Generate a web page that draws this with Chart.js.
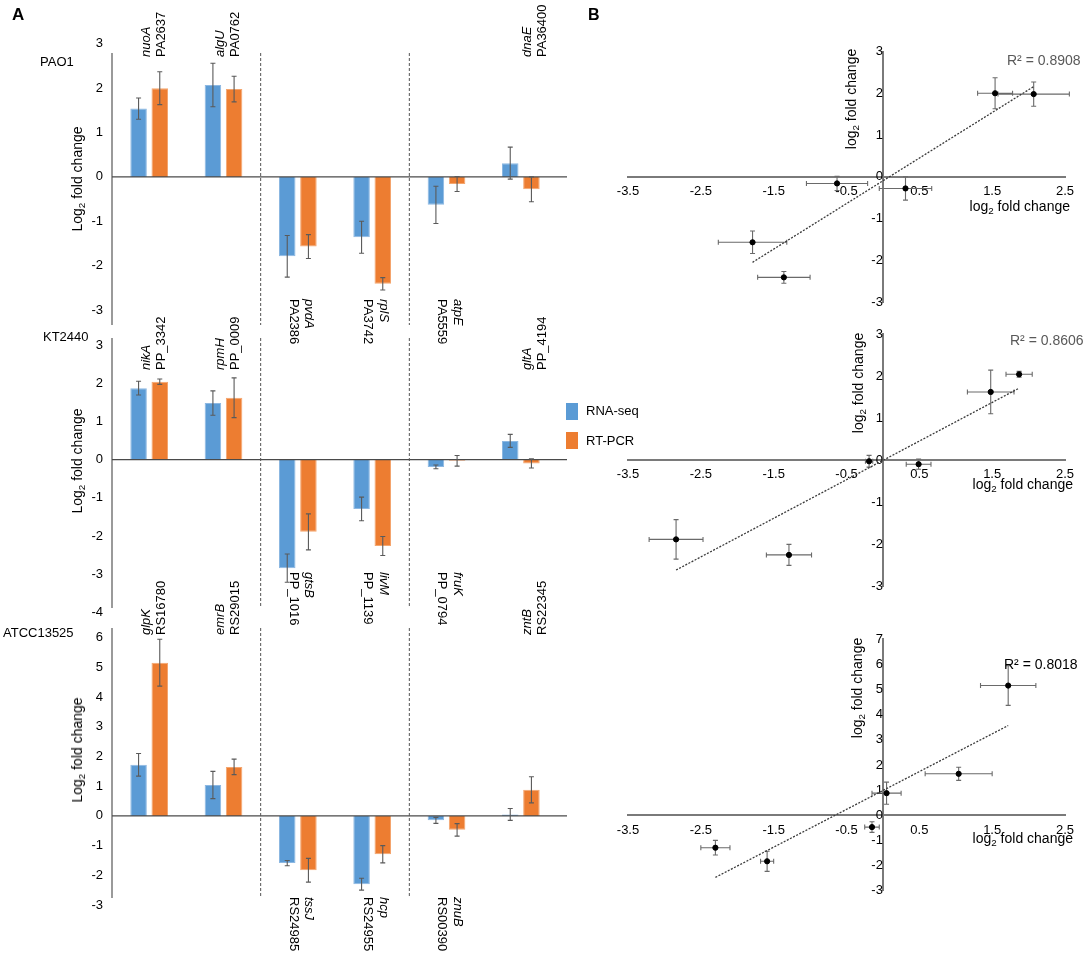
<!DOCTYPE html>
<html>
<head>
<meta charset="utf-8">
<script src="https://cdn.jsdelivr.net/npm/chart.js@4.4.0/dist/chart.umd.min.js"></script>
<style>
  body { margin: 0; background: #fff; }
  #page { position: relative; width: 1084px; height: 956px; overflow: hidden;
          font-family: "Liberation Sans", Arial, sans-serif; color: #000; }
  #page canvas { position: absolute; left: 0; top: 0; }
  .t { position: absolute; white-space: nowrap; font-size: 13px; line-height: 16px; }
  .rot { position: absolute; white-space: nowrap; font-size: 14px; line-height: 16px;
         transform: translate(-50%, -50%) rotate(-90deg); }
  sub { font-size: 70%; vertical-align: -3px; line-height: 0; }
  .sq { position: absolute; width: 12px; height: 17px; }
</style>
</head>
<body>
<div id="page">
  <canvas id="barPAO1" width="1084" height="956"></canvas>
  <canvas id="barKT" width="1084" height="956"></canvas>
  <canvas id="barATCC" width="1084" height="956"></canvas>
  <canvas id="scPAO1" width="1084" height="956"></canvas>
  <canvas id="scKT" width="1084" height="956"></canvas>
  <canvas id="scATCC" width="1084" height="956"></canvas>

  <div class="t" style="left:12px;top:5px;font-size:17px;font-weight:bold;line-height:20px;">A</div>
  <div class="t" style="left:588px;top:5px;font-size:16px;font-weight:bold;line-height:20px;">B</div>

  <div class="t" style="left:40px;top:54px;">PAO1</div>
  <div class="t" style="left:43px;top:329px;">KT2440</div>
  <div class="t" style="left:3px;top:625px;">ATCC13525</div>

  <div class="rot" style="left:77px;top:179px;">Log<sub>2</sub> fold change</div>
  <div class="rot" style="left:77px;top:461px;">Log<sub>2</sub> fold change</div>
  <div class="rot" style="left:77px;top:750px;">Log<sub>2</sub> fold change</div>

  <div class="sq" style="left:566px;top:403px;background:#5B9BD5;"></div>
  <div class="t" style="left:586px;top:403px;">RNA-seq</div>
  <div class="sq" style="left:566px;top:432px;background:#ED7D31;"></div>
  <div class="t" style="left:586px;top:433px;">RT-PCR</div>

  <div class="rot" style="left:851px;top:99px;">log<sub>2</sub> fold change</div>
  <div class="rot" style="left:858px;top:383px;">log<sub>2</sub> fold change</div>
  <div class="rot" style="left:857px;top:688px;">log<sub>2</sub> fold change</div>
  <div class="t" style="right:14px;top:198px;font-size:14px;">log<sub>2</sub> fold change</div>
  <div class="t" style="right:11px;top:476px;font-size:14px;">log<sub>2</sub> fold change</div>
  <div class="t" style="right:11px;top:830px;font-size:14px;">log<sub>2</sub> fold change</div>

  <div class="t" style="left:1007px;top:52px;font-size:14px;color:#595959;">R² = 0.8908</div>
  <div class="t" style="left:1010px;top:332px;font-size:14px;color:#595959;">R² = 0.8606</div>
  <div class="t" style="left:1004px;top:656px;font-size:14px;">R² = 0.8018</div>
</div>

<script>
// ---- data ----
const pao1Genes = ["nuoA", "algU", "pvdA", "rplS", "atpE", "dnaE"];
const pao1Locus = ["PA2637", "PA0762", "PA2386", "PA3742", "PA5559", "PA36400"];
const pao1RnaSeq = [1.54, 2.07, -1.79, -1.36, -0.63, 0.31];
const pao1RnaSeqErr = [0.24, 0.49, 0.47, 0.36, 0.42, 0.36];
const pao1RtPcr = [2.00, 1.98, -1.57, -2.41, -0.16, -0.28];
const pao1RtPcrErr = [0.37, 0.29, 0.27, 0.14, 0.17, 0.28];

const ktGenes = ["nikA", "rpmH", "gtsB", "livM", "fruK", "gltA"];
const ktLocus = ["PP_3342", "PP_0009", "PP_1016", "PP_1139", "PP_0794", "PP_4194"];
const ktRnaSeq = [1.87, 1.48, -2.84, -1.29, -0.19, 0.49];
const ktRnaSeqErr = [0.18, 0.32, 0.37, 0.31, 0.05, 0.17];
const ktRtPcr = [2.04, 1.62, -1.89, -2.26, -0.03, -0.10];
const ktRtPcrErr = [0.07, 0.52, 0.47, 0.25, 0.14, 0.12];

const atccGenes = ["glpK", "emrB", "tssJ", "hcp", "znuB", "zntB"];
const atccLocus = ["RS16780", "RS29015", "RS24985", "RS24955", "RS00390", "RS22345"];
const atccRnaSeq = [1.72, 1.04, -1.59, -2.30, -0.15, 0.05];
const atccRnaSeqErr = [0.38, 0.46, 0.09, 0.20, 0.10, 0.20];
const atccRtPcr = [5.16, 1.65, -1.83, -1.29, -0.47, 0.88];
const atccRtPcrErr = [0.79, 0.26, 0.40, 0.29, 0.21, 0.44];

// label above the bars (true) or below (false)
const labelAbove = [true, true, false, false, false, true];

// tick labels
const pao1BarTicks = [-3, -2, -1, 0, 1, 2, 3];
const ktBarTicks = [-4, -3, -2, -1, 0, 1, 2, 3];
const atccBarTicks = [-3, -2, -1, 0, 1, 2, 3, 4, 5, 6];
const scatterXTicks = [-3.5, -2.5, -1.5, -0.5, 0.5, 1.5, 2.5];
const pao1ScTicks = [-3, -2, -1, 0, 1, 2, 3];
const ktScTicks = [-3, -2, -1, 0, 1, 2, 3];
const atccScTicks = [-3, -2, -1, 0, 1, 2, 3, 4, 5, 6, 7];

// linear trend lines (end points)
const pao1TrendX = [-1.79, 2.07];
const pao1TrendY = [-2.05, 2.16];
const ktTrendX = [-2.84, 1.87];
const ktTrendY = [-2.62, 1.71];
const atccTrendX = [-2.30, 1.72];
const atccTrendY = [-2.47, 3.57];

const W = 1084, H = 956;
const BLUE = "#5B9BD5", ORANGE = "#ED7D31";
const FONT = "'Liberation Sans', Arial, sans-serif";
Chart.defaults.font.family = FONT;
Chart.defaults.font.size = 13;
Chart.defaults.color = "#000";

// error bars, used by both chart types
function drawErrors(chart, ctx, color, cap) {
    chart.data.datasets.forEach((ds, di) => {
        if (!ds.errors && !ds.xErr) return;
        const meta = chart.getDatasetMeta(di);
        const xs = chart.scales.x, ys = chart.scales.y;
        ctx.save();
        ctx.strokeStyle = color;
        ctx.lineWidth = 1.1;
        ctx.beginPath();
        meta.data.forEach((el, j) => {
            const v = chart.data.datasets[di].data[j];
            const yv = typeof v === "object" ? v.y : v;
            const ye = ds.errors ? ds.errors[j] : ds.yErr[j];
            const x = el.x;
            const y1 = ys.getPixelForValue(yv + ye), y2 = ys.getPixelForValue(yv - ye);
            ctx.moveTo(x, y1); ctx.lineTo(x, y2);
            ctx.moveTo(x - cap, y1); ctx.lineTo(x + cap, y1);
            ctx.moveTo(x - cap, y2); ctx.lineTo(x + cap, y2);
            if (ds.xErr) {
                const x1 = xs.getPixelForValue(v.x - ds.xErr[j]);
                const x2 = xs.getPixelForValue(v.x + ds.xErr[j]);
                ctx.moveTo(x1, el.y); ctx.lineTo(x2, el.y);
                ctx.moveTo(x1, el.y - cap); ctx.lineTo(x1, el.y + cap);
                ctx.moveTo(x2, el.y - cap); ctx.lineTo(x2, el.y + cap);
            }
        });
        ctx.stroke();
        ctx.restore();
    });
}

// axis, zero line, dashed separators, gene labels and error bars for the bar panels
const barDecor = {
    id: "barDecor",
    afterDatasetsDraw(chart, args, o) {
        const ctx = chart.ctx;
        const xs = chart.scales.x, ys = chart.scales.y;
        const area = chart.chartArea;
        const y0 = ys.getPixelForValue(0);

        ctx.save();
        // y axis
        ctx.strokeStyle = "#9a9a9a";
        ctx.lineWidth = 2;
        ctx.beginPath();
        ctx.moveTo(area.left, o.lineTop); ctx.lineTo(area.left, o.lineBottom);
        ctx.stroke();
        // zero line
        ctx.strokeStyle = "#4a4a4a";
        ctx.lineWidth = 1.4;
        ctx.beginPath();
        ctx.moveTo(area.left, y0); ctx.lineTo(area.right + 9, y0);
        ctx.stroke();
        // dashed separators between gene groups
        ctx.strokeStyle = "#555";
        ctx.lineWidth = 1;
        ctx.setLineDash([3, 2]);
        [1, 3].forEach(i => {
            const x = (xs.getPixelForValue(i) + xs.getPixelForValue(i + 1)) / 2;
            ctx.beginPath();
            ctx.moveTo(x, o.lineTop); ctx.lineTo(x, o.lineBottom);
            ctx.stroke();
        });
        ctx.setLineDash([]);
        ctx.restore();

        drawErrors(chart, ctx, "#5a5a5a", 2.5);

        // rotated gene / locus labels
        ctx.save();
        ctx.fillStyle = "#000";
        ctx.textBaseline = "middle";
        ctx.textAlign = "left";
        chart.data.labels.forEach((gene, i) => {
            const cx = xs.getPixelForValue(i) + o.shift[i];
            ctx.save();
            if (labelAbove[i]) {
                ctx.translate(cx, o.aboveY);
                ctx.rotate(-Math.PI / 2);
                ctx.font = "italic 13px " + FONT;
                ctx.fillText(gene, 0, -3);
                ctx.font = "13px " + FONT;
                ctx.fillText(o.locus[i], 0, 12);
            } else {
                ctx.translate(cx, o.belowY);
                ctx.rotate(Math.PI / 2);
                ctx.font = "italic 13px " + FONT;
                ctx.fillText(gene, 0, -11);
                ctx.font = "13px " + FONT;
                ctx.fillText(o.locus[i], 0, 4.5);
            }
            ctx.restore();
        });
        ctx.restore();
    }
};

const scatterErrors = {
    id: "scatterErrors",
    beforeDatasetsDraw(chart) {
        drawErrors(chart, chart.ctx, "#6a6a6a", 2.5);
    }
};

function makeBar(id, genes, locus, rna, rnaErr, pcr, pcrErr, ticks, panel) {
    const yw = 40;
    return new Chart(document.getElementById(id), {
        type: "bar",
        data: {
            labels: genes,
            datasets: [
                { label: "RNA-seq", data: rna, errors: rnaErr, backgroundColor: BLUE,
                  borderColor: "#8db8e2", borderWidth: 1,
                  categoryPercentage: 0.57, barPercentage: 0.78 },
                { label: "RT-PCR", data: pcr, errors: pcrErr, backgroundColor: ORANGE,
                  borderColor: "#f4a66f", borderWidth: 1,
                  categoryPercentage: 0.57, barPercentage: 0.78 }
            ]
        },
        options: {
            responsive: false,
            animation: false,
            devicePixelRatio: 1,
            layout: { padding: { left: panel.left - yw, right: W - panel.right,
                                 top: panel.top, bottom: H - panel.bottom } },
            plugins: {
                legend: { display: false },
                tooltip: { enabled: false },
                barDecor: { locus: locus, aboveY: panel.aboveY, belowY: panel.belowY,
                            lineTop: panel.lineTop, lineBottom: panel.lineBottom,
                            shift: [0, 0, 0, 0, 0, 10] }
            },
            scales: {
                x: { display: false },
                y: {
                    min: ticks[0], max: ticks[ticks.length - 1],
                    afterBuildTicks: s => { s.ticks = ticks.map(v => ({ value: v })); },
                    afterFit: s => { s.width = yw; },
                    grid: { display: false, drawTicks: false },
                    border: { display: false },
                    ticks: { padding: 9, color: "#000", font: { size: 13 } }
                }
            }
        },
        plugins: [barDecor]
    });
}

function makeScatter(id, rna, rnaErr, pcr, pcrErr, trendX, trendY, yTicks, panel) {
    return new Chart(document.getElementById(id), {
        type: "scatter",
        data: {
            datasets: [
                { data: rna.map((x, i) => ({ x: x, y: pcr[i] })), xErr: rnaErr, yErr: pcrErr,
                  pointRadius: 2.6, pointBackgroundColor: "#000", pointBorderColor: "#000" },
                { type: "line", data: trendX.map((x, i) => ({ x: x, y: trendY[i] })),
                  borderColor: "#3a3a3a", borderWidth: 1.3, borderDash: [2, 1.5],
                  pointRadius: 0, fill: false }
            ]
        },
        options: {
            responsive: false,
            animation: false,
            devicePixelRatio: 1,
            layout: { padding: { left: panel.left, right: W - panel.right,
                                 top: panel.top, bottom: H - panel.bottom } },
            plugins: { legend: { display: false }, tooltip: { enabled: false } },
            scales: {
                x: {
                    type: "linear", min: scatterXTicks[0], max: scatterXTicks[scatterXTicks.length - 1],
                    position: { y: 0 },
                    afterBuildTicks: s => { s.ticks = scatterXTicks.map(v => ({ value: v })); },
                    grid: { display: false, drawTicks: false },
                    border: { color: "#7a7a7a", width: 2 },
                    ticks: { padding: 7, color: "#000", font: { size: 13 } }
                },
                y: {
                    type: "linear", min: yTicks[0], max: yTicks[yTicks.length - 1],
                    position: { x: 0 },
                    afterBuildTicks: s => { s.ticks = yTicks.map(v => ({ value: v })); },
                    grid: { display: false, drawTicks: false },
                    border: { color: "#7a7a7a", width: 2 },
                    ticks: { padding: 9, color: "#000", font: { size: 13 } }
                }
            }
        },
        plugins: [scatterErrors]
    });
}

makeBar("barPAO1", pao1Genes, pao1Locus, pao1RnaSeq, pao1RnaSeqErr, pao1RtPcr, pao1RtPcrErr,
    pao1BarTicks, { left: 112, right: 558, top: 43.8, bottom: 310,
                    aboveY: 57, belowY: 299, lineTop: 53, lineBottom: 325 });
makeBar("barKT", ktGenes, ktLocus, ktRnaSeq, ktRnaSeqErr, ktRtPcr, ktRtPcrErr,
    ktBarTicks, { left: 112, right: 558, top: 345, bottom: 612.5,
                  aboveY: 370, belowY: 572, lineTop: 338, lineBottom: 608 });
makeBar("barATCC", atccGenes, atccLocus, atccRnaSeq, atccRnaSeqErr, atccRtPcr, atccRtPcrErr,
    atccBarTicks, { left: 112, right: 558, top: 637.7, bottom: 905,
                    aboveY: 635, belowY: 897, lineTop: 628, lineBottom: 898 });

makeScatter("scPAO1", pao1RnaSeq, pao1RnaSeqErr, pao1RtPcr, pao1RtPcrErr, pao1TrendX, pao1TrendY,
    pao1ScTicks, { left: 628, right: 1065, top: 51.5, bottom: 302 });
makeScatter("scKT", ktRnaSeq, ktRnaSeqErr, ktRtPcr, ktRtPcrErr, ktTrendX, ktTrendY,
    ktScTicks, { left: 628, right: 1065, top: 334, bottom: 586 });
makeScatter("scATCC", atccRnaSeq, atccRnaSeqErr, atccRtPcr, atccRtPcrErr, atccTrendX, atccTrendY,
    atccScTicks, { left: 628, right: 1065, top: 639.3, bottom: 890.7 });
</script>
</body>
</html>
